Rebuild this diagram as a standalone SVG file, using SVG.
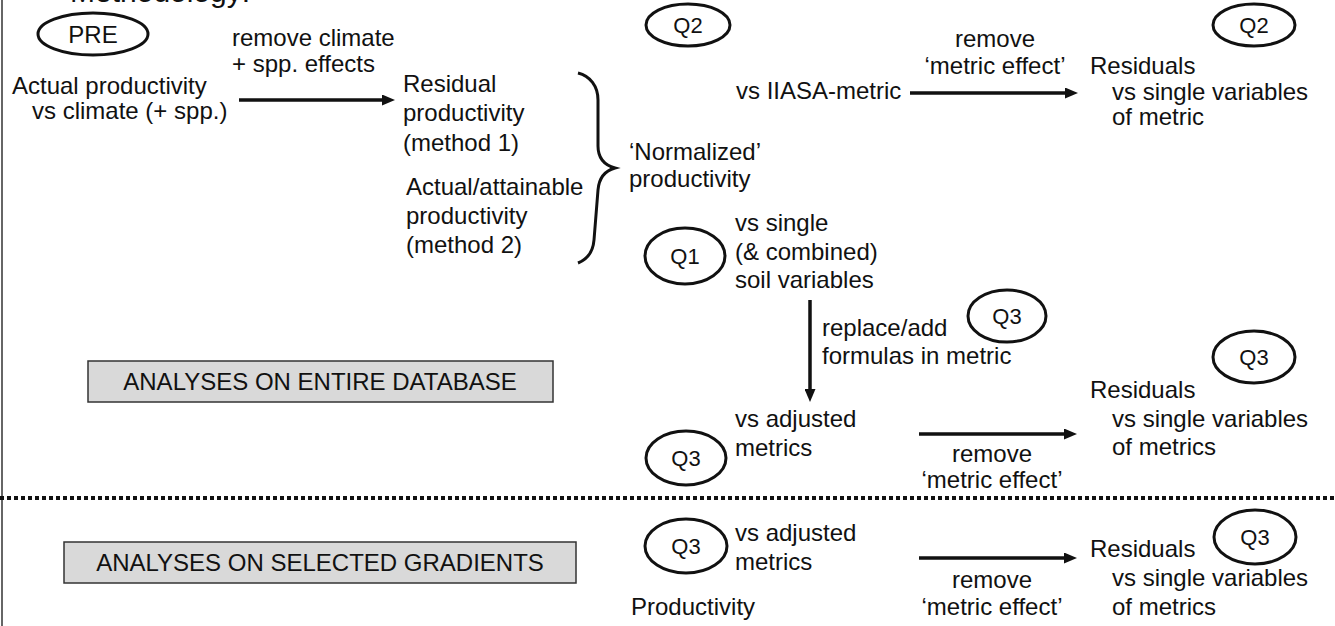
<svg xmlns="http://www.w3.org/2000/svg" width="1335" height="626" viewBox="0 0 1335 626">
<style>
text{font-family:"Liberation Sans",Arial,sans-serif;font-size:24px;fill:#111}
.q{font-size:22px;text-anchor:middle}
.c{text-anchor:middle}
.ell{fill:none;stroke:#111;stroke-width:3}
.box{fill:#d9d9d9;stroke:#333;stroke-width:1.5}
.arr{stroke:#111;stroke-width:3.5;fill:none}
</style>
<defs>
<marker id="ah" viewBox="0 0 13 11" refX="1" refY="5.5" markerWidth="13" markerHeight="11" markerUnits="userSpaceOnUse" orient="auto">
<path d="M0,0 L13,5.5 L0,11 z" fill="#111"/>
</marker>
</defs>
<rect width="1335" height="626" fill="#fff"/>
<line x1="2" y1="0" x2="2" y2="626" stroke="#333" stroke-width="1.5"/>
<text x="70" y="2" style="font-size:30px">Methodology:</text>

<g id="pre">
<ellipse class="ell" cx="93" cy="34" rx="55" ry="21"/>
<text class="c" x="93" y="43">PRE</text>
</g>
<g id="actual">
<text x="12" y="94">Actual productivity</text>
<text x="32" y="119">vs climate (+ spp.)</text>
</g>
<g id="lbl-remove-climate">
<text x="232" y="46">remove climate</text>
<text x="232" y="72">+ spp. effects</text>
</g>
<g id="residual">
<text x="403" y="92">Residual</text>
<text x="403" y="121">productivity</text>
<text x="403" y="151">(method 1)</text>
</g>
<g id="attainable">
<text x="406" y="195">Actual/attainable</text>
<text x="406" y="224">productivity</text>
<text x="406" y="253">(method 2)</text>
</g>
<g id="normalized">
<path d="M578,73 C590,76 598,86 598,100 L598,146 C598,158 604,165 615,168 C604,171 599,178 598,190 L594,240 C593,252 588,259 578,263" fill="none" stroke="#111" stroke-width="3"/>
<text x="629" y="160">‘Normalized’</text>
<text x="629" y="187">productivity</text>
</g>
<g id="q2-metric">
<ellipse class="ell" cx="688" cy="25" rx="42" ry="21"/>
<text class="q" x="688" y="33">Q2</text>
<text x="736" y="99">vs IIASA-metric</text>
</g>
<g id="lbl-remove-1">
<text class="c" x="995" y="47">remove</text>
<text class="c" x="995" y="74">‘metric effect’</text>
</g>
<g id="q2-residuals">
<ellipse class="ell" cx="1254" cy="25" rx="41" ry="21"/>
<text class="q" x="1254" y="33">Q2</text>
<text x="1090" y="74">Residuals</text>
<text x="1112" y="100">vs single variables</text>
<text x="1112" y="125">of metric</text>
</g>
<g id="q1-soil">
<ellipse class="ell" cx="685" cy="256" rx="40" ry="28"/>
<text class="q" x="685" y="264">Q1</text>
<text x="735" y="231">vs single</text>
<text x="735" y="260">(&amp; combined)</text>
<text x="735" y="288">soil variables</text>
</g>
<g id="lbl-replace">
<text x="822" y="336">replace/add</text>
<text x="822" y="364">formulas in metric</text>
<ellipse class="ell" cx="1007" cy="316" rx="39" ry="26"/>
<text class="q" x="1007" y="324">Q3</text>
</g>
<g id="box-entire">
<rect class="box" x="88" y="361" width="465" height="41"/>
<text class="c" x="320" y="390">ANALYSES ON ENTIRE DATABASE</text>
</g>
<g id="q3-adjusted">
<ellipse class="ell" cx="686" cy="458" rx="40" ry="27"/>
<text class="q" x="686" y="466">Q3</text>
<text x="735" y="427">vs adjusted</text>
<text x="735" y="456">metrics</text>
</g>
<g id="lbl-remove-2">
<text class="c" x="992" y="462">remove</text>
<text class="c" x="992" y="488">‘metric effect’</text>
</g>
<g id="q3-residuals">
<ellipse class="ell" cx="1254" cy="357" rx="41" ry="26"/>
<text class="q" x="1254" y="365">Q3</text>
<text x="1090" y="398">Residuals</text>
<text x="1112" y="427">vs single variables</text>
<text x="1112" y="455">of metrics</text>
</g>
<g id="box-selected">
<rect class="box" x="64" y="542" width="512" height="41"/>
<text class="c" x="320" y="571">ANALYSES ON SELECTED GRADIENTS</text>
</g>
<g id="q3-grad-adjusted">
<ellipse class="ell" cx="686" cy="546" rx="41" ry="27"/>
<text class="q" x="686" y="554">Q3</text>
<text x="735" y="541">vs adjusted</text>
<text x="735" y="570">metrics</text>
<text x="631" y="615">Productivity</text>
</g>
<g id="lbl-remove-3">
<text class="c" x="992" y="588">remove</text>
<text class="c" x="992" y="615">‘metric effect’</text>
</g>
<g id="q3-grad-residuals">
<ellipse class="ell" cx="1255" cy="537" rx="41" ry="27"/>
<text class="q" x="1255" y="545">Q3</text>
<text x="1090" y="557">Residuals</text>
<text x="1112" y="586">vs single variables</text>
<text x="1112" y="615">of metrics</text>
</g>
<g id="connectors">
<line class="arr" x1="239" y1="100" x2="383" y2="100" marker-end="url(#ah)"/>
<line class="arr" x1="910" y1="93" x2="1066" y2="93" marker-end="url(#ah)"/>
<line class="arr" x1="810" y1="300" x2="810" y2="390" marker-end="url(#ah)"/>
<line class="arr" x1="919" y1="434" x2="1065" y2="434" marker-end="url(#ah)"/>
<line class="arr" x1="919" y1="558" x2="1065" y2="558" marker-end="url(#ah)"/>
<line x1="0" y1="498" x2="1335" y2="498" stroke="#111" stroke-width="4" stroke-dasharray="4 3"/>
</g>
</svg>
